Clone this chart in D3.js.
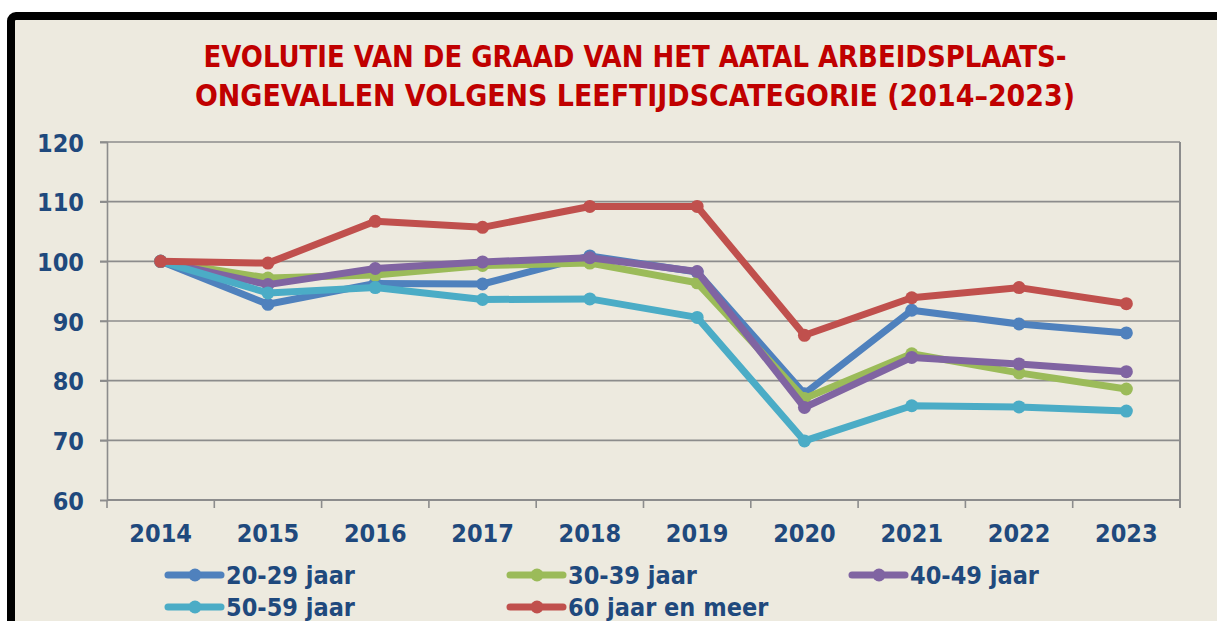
<!DOCTYPE html>
<html><head><meta charset="utf-8">
<script src="https://cdn.jsdelivr.net/npm/d3@7"></script>
<style>
html,body{margin:0;padding:0;background:#fff;}
svg{display:block;}
text{font-family:"DejaVu Sans",Tahoma,sans-serif;font-stretch:condensed;font-weight:bold;}
</style></head><body>
<svg id="c" width="1217" height="621"></svg>
<script>
const years = ["2014","2015","2016","2017","2018","2019","2020","2021","2022","2023"];
const s2029 = [100, 92.8, 96.3, 96.2, 100.9, 98.2, 77.8, 91.8, 89.5, 88.0];
const s3039 = [100, 97.2, 97.7, 99.3, 99.7, 96.4, 77.0, 84.5, 81.3, 78.6];
const s4049 = [100, 96.1, 98.8, 99.9, 100.6, 98.3, 75.5, 83.9, 82.8, 81.5];
const s5059 = [100, 94.7, 95.6, 93.6, 93.7, 90.6, 69.9, 75.8, 75.6, 74.9];
const s60 = [100, 99.7, 106.7, 105.7, 109.2, 109.2, 87.6, 93.9, 95.6, 92.9];
const seriesNames = ["20-29 jaar","30-39 jaar","40-49 jaar","50-59 jaar","60 jaar en meer"];
const seriesColors = ["#4F81BD","#9BBB59","#8064A2","#4BACC6","#C0504D"];
const yTicks = [60,70,80,90,100,110,120];
const titleLines = ["EVOLUTIE VAN DE GRAAD VAN HET AATAL ARBEIDSPLAATS-","ONGEVALLEN VOLGENS LEEFTIJDSCATEGORIE (2014\u20132023)"];

const allSeries = [s2029,s3039,s4049,s5059,s60];
const svg = d3.select("#c");
const bg = "#EDEADF";
const navy = "#1F497D";
const grid = "#8C8C8C";

// frame
svg.append("rect").attr("x",0).attr("y",0).attr("width",1217).attr("height",621).attr("fill","#fff");
svg.append("rect").attr("x",11).attr("y",16).attr("width",1240).attr("height",640).attr("rx",5)
  .attr("fill",bg).attr("stroke","#000").attr("stroke-width",8);

const L=107, R=1180, T=142, B=500;
const x = d3.scaleBand().domain(years).range([L,R]).padding(0);
const cx = d => x(d) + x.bandwidth()/2;
const y = d3.scaleLinear().domain([60,120]).range([B,T]);

// title
const tl = svg.append("g");
tl.selectAll("text").data(titleLines).join("text")
  .attr("x",635).attr("y",(d,i)=> i===0?67:106)
  .attr("text-anchor","middle").attr("fill","#C00000").attr("font-size",30)
  .attr("textLength",(d,i)=> i===0?863:880).attr("lengthAdjust","spacingAndGlyphs")
  .text(d=>d);

// gridlines
svg.append("g").selectAll("line").data(yTicks.filter(v=>v>60)).join("line")
  .attr("x1",L-7).attr("x2",R).attr("y1",d=>y(d)).attr("y2",d=>y(d))
  .attr("stroke",grid).attr("stroke-width",1.6);
// y axis
const ya = svg.append("g").attr("transform",`translate(${L},0)`)
  .call(d3.axisLeft(y).tickValues(yTicks).tickSize(7).tickPadding(16));
ya.select(".domain").attr("stroke",grid).attr("stroke-width",1.6);
ya.selectAll(".tick line").attr("stroke",grid).attr("stroke-width",1.6);
ya.selectAll(".tick text").attr("fill",navy).attr("font-size",25).attr("font-family",null).attr("dy","0.36em");
// right border
svg.append("line").attr("x1",R).attr("x2",R).attr("y1",T).attr("y2",B+8).attr("stroke",grid).attr("stroke-width",2);
// x axis
svg.append("line").attr("x1",L).attr("x2",R).attr("y1",B).attr("y2",B).attr("stroke",grid).attr("stroke-width",2);
svg.append("g").selectAll("line").data(years.concat(["end"])).join("line")
  .attr("x1",(d,i)=> i<years.length? x(d): R).attr("x2",(d,i)=> i<years.length? x(d): R)
  .attr("y1",B).attr("y2",B+8).attr("stroke",grid).attr("stroke-width",1.6);
svg.append("g").selectAll("text").data(years).join("text")
  .attr("x",d=>cx(d)).attr("y",542).attr("text-anchor","middle")
  .attr("fill",navy).attr("font-size",25).text(d=>d);

// lines
const line = d3.line().x((d,i)=>cx(years[i])).y(d=>y(d));
allSeries.forEach((s,k)=>{
  const g = svg.append("g");
  g.append("path").datum(s).attr("d",line).attr("fill","none")
    .attr("stroke",seriesColors[k]).attr("stroke-width",7).attr("stroke-linejoin","round");
  g.selectAll("circle").data(s).join("circle")
    .attr("cx",(d,i)=>cx(years[i])).attr("cy",d=>y(d)).attr("r",6.5).attr("fill",seriesColors[k]);
});

// legend
const legPos = [[168,575],[510,575],[852,575],[168,607],[510,607]];
seriesNames.forEach((n,k)=>{
  const [lx,ly]=legPos[k];
  const g = svg.append("g");
  g.append("line").attr("x1",lx).attr("x2",lx+53).attr("y1",ly).attr("y2",ly)
    .attr("stroke",seriesColors[k]).attr("stroke-width",7).attr("stroke-linecap","round");
  g.append("circle").attr("cx",lx+27).attr("cy",ly).attr("r",6.5).attr("fill",seriesColors[k]);
  g.append("text").attr("x",lx+58).attr("y",ly+9).attr("fill",navy).attr("font-size",25).text(n);
});
</script></body></html>
